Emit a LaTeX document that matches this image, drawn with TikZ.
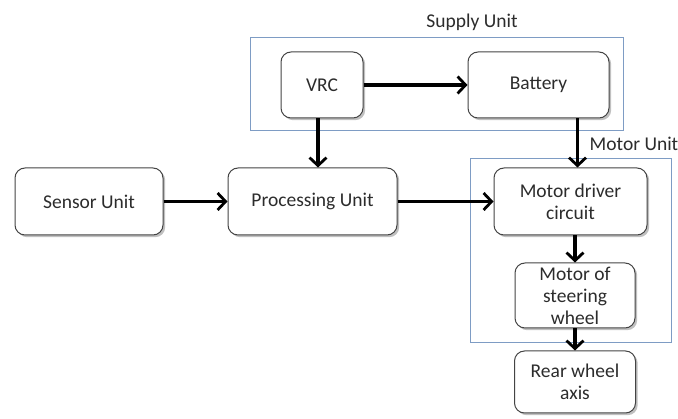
\documentclass[tikz,border=0pt]{standalone}
\usepackage{fontspec}
\setmainfont{Carlito}
\usetikzlibrary{arrows.meta,shadows,calc}
\definecolor{txtgray}{HTML}{2C2C2C}
\definecolor{edgegray}{HTML}{444444}
\definecolor{groupblue}{HTML}{7E9CC4}
\tikzset{
  block/.style={draw=edgegray, line width=1pt, rounded corners=10pt, fill=white,
    text=txtgray, align=center, inner sep=2pt,
    font=\fontsize{19.5}{22}\selectfont,
    drop shadow={shadow xshift=2.2pt, shadow yshift=-2.2pt, opacity=0.35, fill=black!70}},
  groupbox/.style={draw=groupblue, line width=0.8pt},
  grouplabel/.style={text=txtgray, font=\fontsize{19.5}{22}\selectfont, inner sep=0pt},
  flow/.style={line width=3.2pt, -{Straight Barb[length=8pt,width=17pt,line width=2.8pt]}}
}
\begin{document}
\begin{tikzpicture}[x=1pt,y=-1pt]
  \useasboundingbox[fill=white] (0,0) rectangle (678,419);

  % group frames
  \draw[groupbox] (250,37) rectangle (623,130);
  \node[grouplabel] (supplylbl) at (472,22) {Supply Unit};
  \draw[groupbox] (470,158) rectangle (671,342);
  \node[grouplabel] (motorlbl) at (634,144) {Motor Unit};

  % blocks
  \node[block, minimum width=82pt,  minimum height=66pt] (vrc)   at (322,85)    {VRC};
  \node[block, minimum width=141pt, minimum height=66pt] (bat)   at (538.5,85)  {Battery};
  \node[block, minimum width=148pt, minimum height=67pt] (sens)  at (89,201.5)  {Sensor Unit};
  \node[block, minimum width=169pt, minimum height=67pt] (proc)  at (312.5,201.5) {Processing Unit};
  \node[block, minimum width=153pt, minimum height=67pt] (drv)   at (570.5,201.5) {Motor driver\\circuit};
  \node[block, minimum width=120pt, minimum height=65pt] (steer) at (575,295.5) {Motor of\\steering\\wheel};
  \node[block, minimum width=121pt, minimum height=62pt] (rear)  at (575,382)   {Rear wheel\\axis};

  % connectors
  \coordinate (drvin) at ($(drv.north)+(7,0)$);
  \draw[flow] (vrc.east) -- (bat.west);
  \draw[flow] ($(vrc.south)+(-4,0)$) -- ($(vrc.south |- proc.north)+(-4,0)$);
  \draw[flow] (bat.south -| drvin) -- (drvin);
  \draw[flow] (sens.east) -- (proc.west);
  \draw[flow] (proc.east) -- (drv.west);
  \draw[flow] (drv.south -| steer.north) -- (steer.north);
  \draw[flow] (steer.south) -- (rear.north);
\end{tikzpicture}
\end{document}
